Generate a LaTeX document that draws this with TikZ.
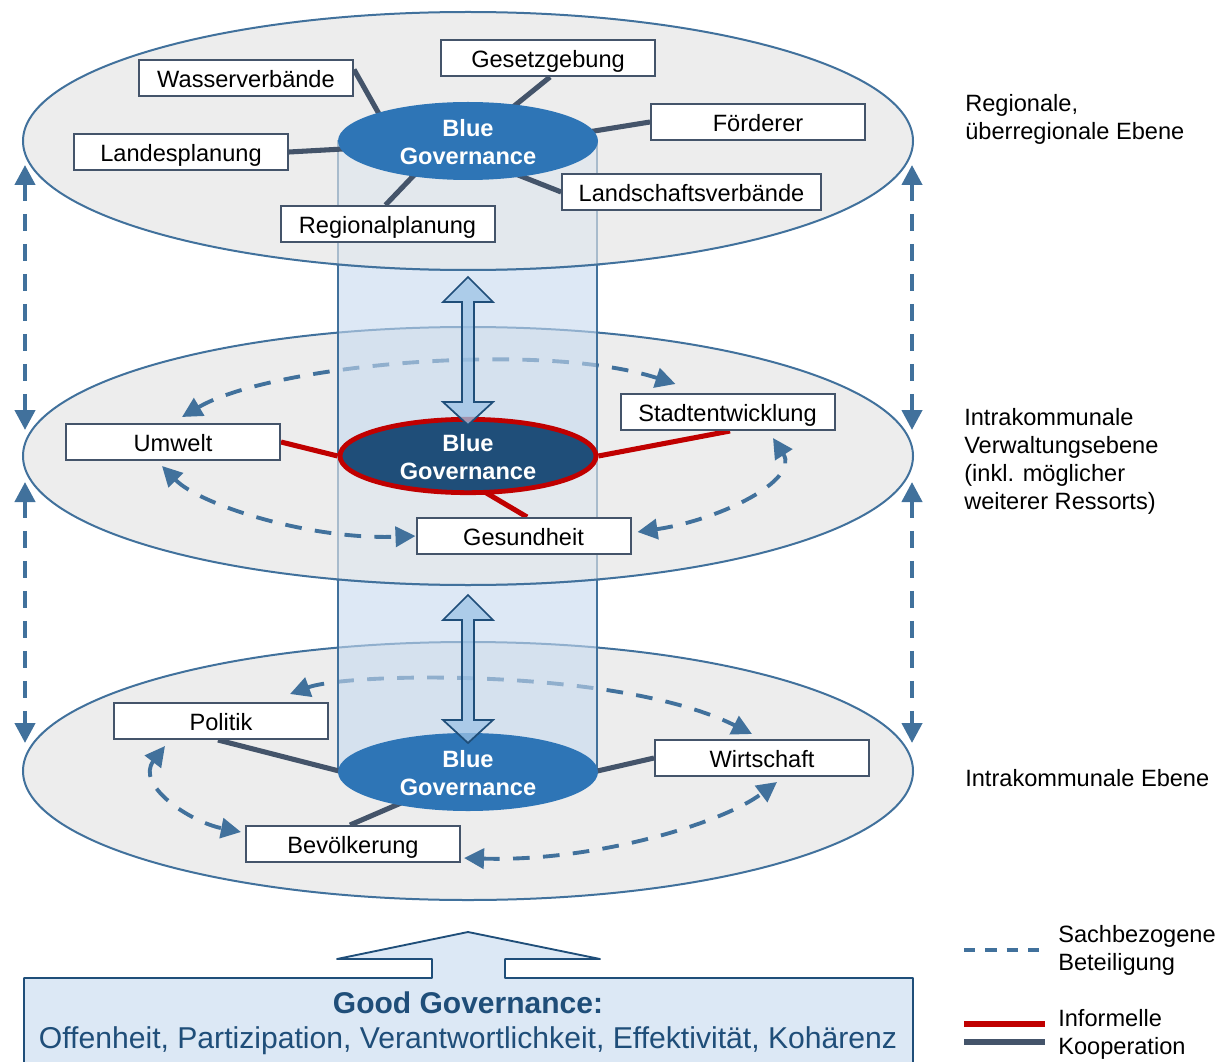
\documentclass[tikz,border=0pt]{standalone}
\usepackage{fontspec}
\setmainfont{Liberation Sans}
\usetikzlibrary{shapes.geometric,arrows.meta,calc}
\definecolor{edgeblue}{HTML}{41719C}
\definecolor{darkblue}{HTML}{1F4E79}
\definecolor{midblue}{HTML}{2E75B6}
\definecolor{plategray}{HTML}{EDEDED}
\definecolor{cylblue}{HTML}{C6D9EF}
\definecolor{slate}{HTML}{44546A}
\definecolor{redc}{HTML}{C00000}
\definecolor{paleblue}{HTML}{DCE8F5}
\definecolor{arrowblue}{HTML}{9DC3E6}
\pgfdeclarelayer{bg}\pgfdeclarelayer{conn}
\pgfsetlayers{bg,conn,main}
\newcommand{\govtext}{\rule{0pt}{14.4pt}Blue\\Governance}
\tikzset{
  x=0.75pt,y=-0.75pt,
  lbl/.style={font=\fontsize{17.7pt}{21pt}\selectfont},
  plate/.style={ellipse,draw=edgeblue,line width=1.5pt,fill=plategray,minimum width=667.5pt,minimum height=193.5pt,inner sep=0pt},
  blue gov/.style={ellipse,fill=midblue,text=white,align=center,inner sep=0pt,minimum width=195pt,minimum height=58.5pt,font=\fontsize{17.7pt}{21pt}\selectfont\bfseries},
  blue gov red/.style={blue gov,fill=darkblue,draw=redc,line width=3.6pt,minimum width=192pt,minimum height=55pt},
  box/.style={lbl,rectangle,draw=slate,line width=1.5pt,fill=white,minimum width=160.5pt,minimum height=27pt,inner sep=0pt,text height=14pt,text depth=0pt},
  grayconn/.style={slate,line width=3.8pt},
  redconn/.style={redc,line width=3.8pt},
  dasharrow/.style={edgeblue,line width=2.9pt,dash pattern=on 12.5pt off 10pt,{Triangle[length=15pt,width=15pt]}-{Triangle[length=15pt,width=15pt]}},
  vdash/.style={dasharrow,line width=3.2pt,dash pattern=on 13pt off 9.5pt},
  levellbl/.style={lbl,align=left,anchor=north west,inner sep=0pt,text=black},
  blockarrow/.style={draw=darkblue,line width=1.3pt,fill=arrowblue,fill opacity=0.75,line join=miter},
}
\newcommand{\blockarrow}[1]{%
  \path[blockarrow] (468,#1) -- (493,#1+25) -- (474,#1+25) -- (474,#1+125) -- (493,#1+125)
   -- (468,#1+148) -- (443,#1+125) -- (462,#1+125) -- (462,#1+25) -- (443,#1+25) -- cycle;}
\begin{document}
\begin{tikzpicture}
\useasboundingbox (0,0) rectangle (1226,1062);
% background layer: plates, cylinder and what lies behind it
\begin{pgfonlayer}{bg}
  \node[plate] (p3) at (468,771) {};
  \node[plate] (p2) at (468,456) {};
  \node[plate] (p1) at (468,141) {};
\end{pgfonlayer}
% foreground nodes
\node[blue gov] (g1) at (468,141) {\govtext};
\node[blue gov red] (g2) at (468,456) {\govtext};
\node[blue gov] (g3) at (468,772) {\govtext};
\node[box] (wass) at (246,78.5) {Wasserverbände};
\node[box] (gesetz) at (548,58) {Gesetzgebung};
\node[box] (foerd) at (758,122) {Förderer};
\node[box] (landes) at (181,152) {Landesplanung};
\node[box,minimum width=194pt] (landsch) at (691.5,192) {Landschaftsverbände};
\node[box] (region) at (387.5,224) {Regionalplanung};
\node[box] (umwelt) at (173,442) {Umwelt};
\node[box] (stadt) at (727.5,412) {Stadtentwicklung};
\node[box] (gesund) at (523.5,536) {Gesundheit};
\node[box] (polit) at (221,721) {Politik};
\node[box] (wirt) at (762,758) {Wirtschaft};
\node[box] (bevoel) at (353,844) {Bevölkerung};
\begin{pgfonlayer}{bg}
  % dashed arcs behind the cylinder
  \draw[dasharrow] ([shift={(9,-6)}]umwelt.north) .. controls (270,365) and (540,340) .. ([shift={(-52,-9)}]stadt.north);
  \draw[dasharrow] ([shift={(69,-8)}]polit.north) .. controls (350,672) and (620,668) .. ([shift={(-10,-5)}]wirt.north);
  % cylinder
  \path[draw=edgeblue,line width=1.8pt,fill=cylblue,fill opacity=0.6] (338,141) rectangle (597,772);
  % front halves of the upper plates over the cylinder
  \begin{scope}
    \clip (331,141) rectangle (605,280);
    \fill[plategray,opacity=0.6] (p1.center) ellipse [x radius=445,y radius=129];
    \draw[edgeblue,line width=1.5pt] (p1.center) ellipse [x radius=445,y radius=129];
  \end{scope}
  \begin{scope}
    \clip (331,456) rectangle (605,595);
    \fill[plategray,opacity=0.6] (p2.center) ellipse [x radius=445,y radius=129];
    \draw[edgeblue,line width=1.5pt] (p2.center) ellipse [x radius=445,y radius=129];
  \end{scope}
\end{pgfonlayer}
% connectors
\begin{pgfonlayer}{conn}
  \draw[grayconn] ([shift={(0,-9)}]wass.east) -- ([shift={(-85,-20)}]g1.center);
  \draw[grayconn] ([shift={(2,0)}]gesetz.south) -- ([shift={(40,-30)}]g1.center);
  \draw[grayconn] (foerd.west) -- ([shift={(120,-9)}]g1.center);
  \draw[grayconn] (landes.east) -- ([shift={(-125,8)}]g1.center);
  \draw[grayconn] (landsch.west) -- ([shift={(45,32)}]g1.center);
  \draw[grayconn] ([shift={(-2,0)}]region.north) -- ([shift={(-50,30)}]g1.center);
  \draw[redconn] (umwelt.east) -- (g2.west);
  \draw[redconn] ([shift={(2.5,0)}]stadt.south) -- (g2.east);
  \draw[redconn] ([shift={(3.5,0)}]gesund.north) -- ([shift={(10,32)}]g2.center);
  \draw[grayconn] ([shift={(-3,0)}]polit.south) -- ([shift={(-125,0)}]g3.center);
  \draw[grayconn] (wirt.west) -- ([shift={(125,0)}]g3.center);
  \draw[grayconn] ([shift={(-3,0)}]bevoel.north) -- ([shift={(-60,28)}]g3.center);
\end{pgfonlayer}
% dashed participation arrows in front
\draw[dasharrow] ([shift={(-11,5)}]umwelt.south) .. controls (200,505) and (310,540) .. (gesund.west);
\draw[dasharrow] ([shift={(6,-4)}]gesund.east) .. controls (720,520) and (800,480) .. ([shift={(45.5,7)}]stadt.south);
\draw[dasharrow] ([shift={(-56,6)}]polit.south) .. controls (135,785) and (190,822) .. ([shift={(-4,-12)}]bevoel.west);
\draw[dasharrow] ([shift={(3,14)}]bevoel.east) .. controls (590,862) and (720,825) .. ([shift={(15,5)}]wirt.south);
% level arrows at the plate sides
\coordinate (la1) at (25,165); \coordinate (la2) at (25,430);
\coordinate (la3) at (25,482); \coordinate (la4) at (25,743);
\coordinate (ra1) at (912,165); \coordinate (ra2) at (912,430);
\coordinate (ra3) at (912,482); \coordinate (ra4) at (912,743);
\draw[vdash] (la1) -- (la2);
\draw[vdash] (la3) -- (la4);
\draw[vdash] (ra1) -- (ra2);
\draw[vdash] (ra3) -- (ra4);
% block arrows between the plates
\blockarrow{277}
\blockarrow{595}
% good governance block
\path[draw=darkblue,line width=1.4pt,fill=paleblue,line join=round] (24,1066) -- (24,978) -- (432,978) -- (432,959) -- (337,959) -- (468,932) -- (600,959) -- (505,959) -- (505,978) -- (913,978) -- (913,1066) -- cycle;
\node[text=darkblue,anchor=base,inner sep=0pt,font=\fontsize{22.5pt}{26pt}\selectfont\bfseries] (gg) at (468,1013) {Good Governance:};
\node[text=darkblue,anchor=base,inner sep=0pt,font=\fontsize{22.6pt}{26pt}\selectfont] (gl) at (468,1048) {Offenheit, Partizipation, Verantwortlichkeit, Effektivität, Kohärenz};
% level labels
\node[levellbl] (t1) at (965,94) {Regionale,\\überregionale Ebene};
\node[levellbl] (t2) at (964,408) {Intrakommunale\\Verwaltungsebene\\(inkl. möglicher\\weiterer Ressorts)};
\node[levellbl] (t3) at (965,769) {Intrakommunale Ebene};
% legend
\coordinate (k1) at (964,950); \coordinate (k2) at (1042,950);
\draw[edgeblue,line width=2.3pt,dash pattern=on 8.5pt off 7.5pt] (k1) -- (k2);
\coordinate (k3) at (964,1024); \coordinate (k4) at (1045,1024);
\draw[redc,line width=4.5pt] (k3) -- (k4);
\coordinate (k5) at (964,1042); \coordinate (k6) at (1045,1042);
\draw[slate,line width=4.5pt] (k5) -- (k6);
\node[levellbl] (t4) at (1058,925) {Sachbezogene\\Beteiligung};
\node[levellbl] (t5) at (1058,1009) {Informelle\\Kooperation};
\end{tikzpicture}
\end{document}
